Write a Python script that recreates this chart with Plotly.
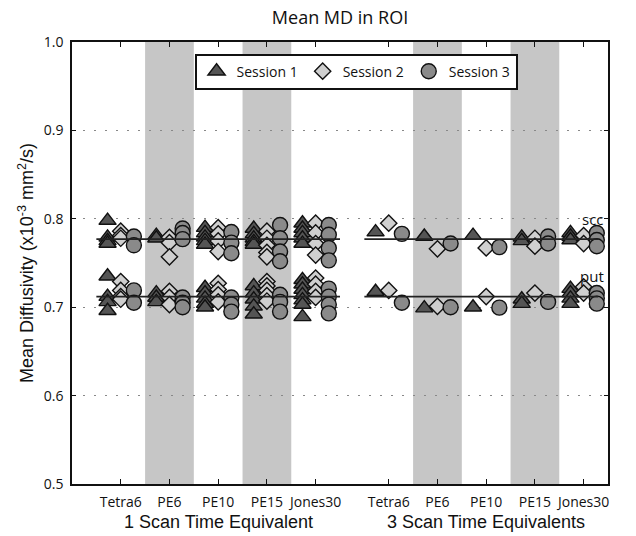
import plotly.graph_objects as go

# Acquisition schemes, shown once per scan-time block
methods = ["Tetra6", "PE6", "PE10", "PE15", "Jones30"]
pos_1x = [1, 2, 3, 4, 5]
pos_3x = [6.5, 7.5, 8.5, 9.5, 10.5]
shaded_methods = ["PE6", "PE15"]

# Mean MD (x10^-3 mm^2/s), one list per method; 1 scan time equivalent
scc_1x_s1 = [[0.798, 0.779, 0.775, 0.772], [0.781, 0.778], [0.790, 0.784, 0.779, 0.775, 0.771],
             [0.789, 0.783, 0.778, 0.774, 0.771], [0.795, 0.789, 0.784, 0.778, 0.772]]
scc_1x_s2 = [[0.786, 0.781, 0.778], [0.779, 0.773, 0.757], [0.790, 0.783, 0.775, 0.763],
             [0.786, 0.778, 0.770, 0.762, 0.757], [0.795, 0.784, 0.772, 0.759]]
scc_1x_s3 = [[0.780, 0.770], [0.789, 0.784, 0.777], [0.785, 0.773, 0.761],
             [0.793, 0.778, 0.763, 0.752], [0.793, 0.782, 0.767, 0.753]]
put_1x_s1 = [[0.735, 0.712, 0.706, 0.696], [0.716, 0.711, 0.706], [0.722, 0.716, 0.710, 0.704, 0.700],
             [0.724, 0.716, 0.709, 0.701, 0.692], [0.731, 0.726, 0.720, 0.714, 0.708, 0.703, 0.689]]
put_1x_s2 = [[0.729, 0.719, 0.712, 0.709], [0.718, 0.711, 0.703], [0.727, 0.720, 0.714, 0.706],
             [0.729, 0.724, 0.719, 0.713, 0.707], [0.733, 0.726, 0.718, 0.711]]
put_1x_s3 = [[0.719, 0.705], [0.711, 0.705, 0.700], [0.711, 0.703, 0.695],
             [0.714, 0.706, 0.695], [0.721, 0.712, 0.703, 0.693]]

# 3 scan time equivalents
scc_3x_s1 = [[0.785], [0.780], [0.781], [0.779, 0.775], [0.784, 0.780, 0.776]]
scc_3x_s2 = [[0.795], [0.766], [0.767], [0.778, 0.769], [0.781, 0.772]]
scc_3x_s3 = [[0.783], [0.772], [0.768], [0.780, 0.772], [0.784, 0.776, 0.769]]
put_3x_s1 = [[0.7175], [0.699], [0.700], [0.709, 0.704], [0.721, 0.716, 0.710, 0.704]]
put_3x_s2 = [[0.719], [0.701], [0.712], [0.716], [0.723, 0.716]]
put_3x_s3 = [[0.705], [0.700], [0.6995], [0.706], [0.716, 0.710, 0.704]]

# Overall ROI means drawn as reference lines
scc_mean = 0.777
put_mean = 0.712
line_span_1x = [0.5, 5.5]
line_span_3x = [6.0, 10.8]

sessions = ["Session 1", "Session 2", "Session 3"]
symbols = ["triangle-up", "diamond", "circle"]
fills = ["#555555", "#cfcfcf", "#8a8a8a"]
sizes = [15, 12.5, 15]
offsets = [-0.27, 0.0, 0.27]

data_sets = [
    (pos_1x, [scc_1x_s1, scc_1x_s2, scc_1x_s3], [put_1x_s1, put_1x_s2, put_1x_s3]),
    (pos_3x, [scc_3x_s1, scc_3x_s2, scc_3x_s3], [put_3x_s1, put_3x_s2, put_3x_s3]),
]

fig = go.Figure()

for s in range(3):
    xs, ys = [], []
    for positions, scc_sets, put_sets in data_sets:
        for roi_sets in (scc_sets, put_sets):
            for p, vals in zip(positions, roi_sets[s]):
                xs += [p + offsets[s]] * len(vals)
                ys += vals
    fig.add_trace(go.Scatter(
        x=xs, y=ys, mode="markers", name=sessions[s],
        marker=dict(symbol=symbols[s], size=sizes[s], color=fills[s],
                    line=dict(color="#111111", width=1.4)),
    ))

for span in (line_span_1x, line_span_3x):
    for m in (scc_mean, put_mean):
        fig.add_trace(go.Scatter(
            x=span, y=[m, m], mode="lines", showlegend=False,
            line=dict(color="#222222", width=1.6), hoverinfo="skip",
        ))

# Shaded columns behind alternate schemes
for positions in (pos_1x, pos_3x):
    for p, name in zip(positions, methods):
        if name in shaded_methods:
            fig.add_shape(type="rect", xref="x", yref="paper", x0=p - 0.5, x1=p + 0.5,
                          y0=0, y1=1, fillcolor="#c6c6c6", line_width=0, layer="below")

label_font = "Liberation Sans, Arial, sans-serif"
tick_font = "Open Sans, sans-serif"

fig.update_layout(
    width=636, height=536,
    margin=dict(l=72, r=28, t=42, b=52),
    paper_bgcolor="white", plot_bgcolor="white",
    title=dict(text="Mean MD in ROI", x=0.5, xref="paper", xanchor="center",
               y=1 - 18 / 536, yref="container", yanchor="middle",
               font=dict(family=tick_font, size=18, color="#111111")),
    legend=dict(orientation="h", x=0.53, xanchor="center", y=0.933, yanchor="middle",
                bgcolor="white", bordercolor="#111111", borderwidth=2,
                font=dict(family=tick_font, size=14, color="#111111"),
                itemsizing="trace", traceorder="normal"),
    showlegend=True,
)

fig.update_xaxes(
    range=[0, 11], tickvals=pos_1x + pos_3x, ticktext=methods + methods,
    ticks="inside", ticklen=5, tickcolor="#111111", mirror="allticks",
    showline=True, linecolor="#111111", linewidth=1.5, showgrid=False, zeroline=False,
    tickfont=dict(family=tick_font, size=14, color="#111111"), ticklabelstandoff=4,
)
fig.update_yaxes(
    range=[0.5, 1.0], tickvals=[0.5, 0.6, 0.7, 0.8, 0.9, 1.0],
    ticktext=["0.5", "0.6", "0.7", "0.8", "0.9", "1.0"],
    ticks="inside", ticklen=4, tickcolor="#111111", mirror="allticks",
    showline=True, linecolor="#111111", linewidth=1.5, zeroline=False,
    showgrid=True, gridcolor="#888888", gridwidth=1.2, griddash="1.5px,9.5px",
    tickfont=dict(family=tick_font, size=14, color="#111111"), ticklabelstandoff=4,
    title=dict(text="Mean Diffusivity (x10<sup>-3</sup> mm<sup>2</sup>/s)",
               font=dict(family=label_font, size=18, color="#111111"), standoff=5),
)

# Block captions under the scheme labels
for positions, caption in ((pos_1x, "1 Scan Time Equivalent"), (pos_3x, "3 Scan Time Equivalents")):
    fig.add_annotation(text=caption, xref="x", yref="paper",
                       x=(positions[0] + positions[-1]) / 2, y=-0.086, yanchor="middle",
                       showarrow=False, font=dict(family=label_font, size=18, color="#111111"))

# ROI labels at the right edge
for txt, yv in (("scc", 0.8), ("put", 0.735)):
    fig.add_annotation(text=txt, xref="paper", yref="y", x=1, y=yv, xanchor="right",
                       yanchor="middle", xshift=-2, showarrow=False,
                       font=dict(family=tick_font, size=15, color="#111111"))

fig.write_html("out.html")
